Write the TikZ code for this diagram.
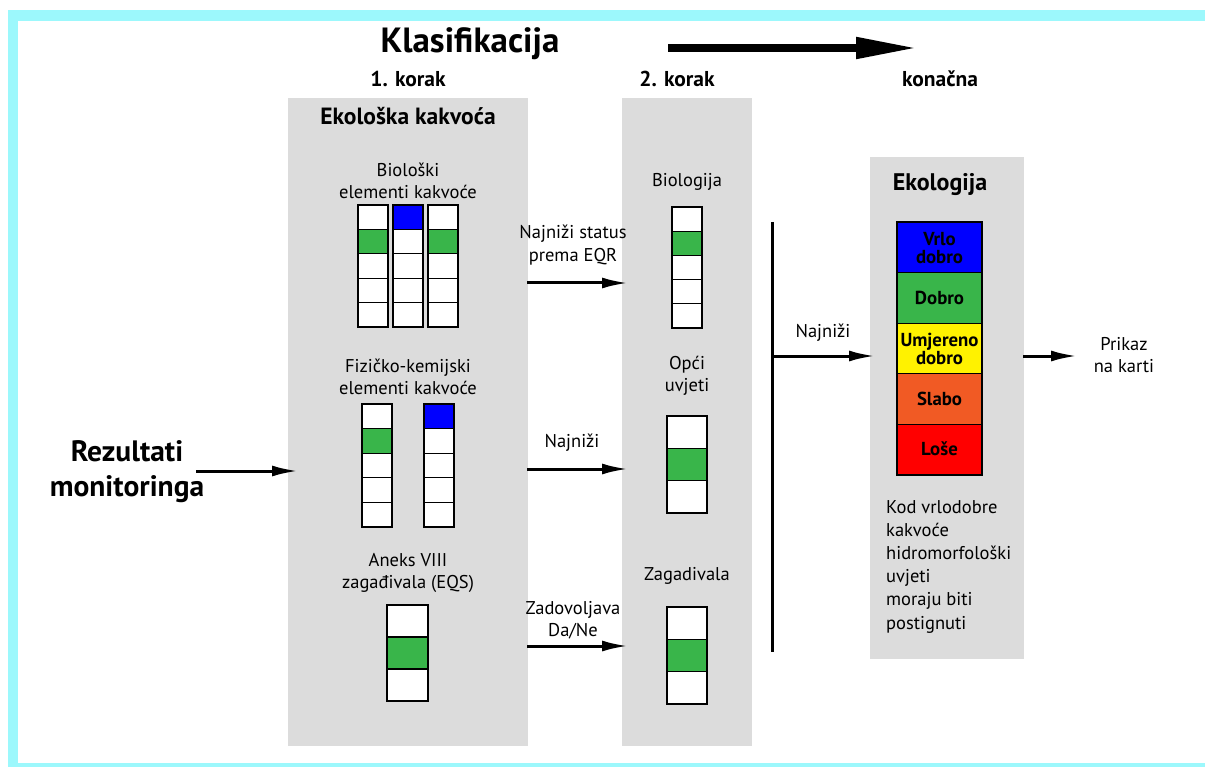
\documentclass[tikz,border=0pt]{standalone}
\usepackage{fontspec}
\setmainfont{PT Sans}
\usetikzlibrary{arrows.meta}
\definecolor{frame}{HTML}{9CF8FC}
\definecolor{panel}{HTML}{DCDCDC}
\definecolor{cB}{HTML}{0000FF}
\definecolor{cG}{HTML}{39B54A}
\definecolor{cY}{HTML}{FFF200}
\definecolor{cO}{HTML}{F15A24}
\definecolor{cR}{HTML}{FF0000}
\newcommand{\mybar}[5]{%
  \foreach \c [count=\i from 0] in {#5} {
    \draw[line width=1.3pt, fill=\c] (#1,{#2+\i*#4}) rectangle ++(#3,#4);
  }}
\tikzset{
  panelbox/.style={fill=panel, draw=none, inner sep=0pt, anchor=north west},
  lbl/.style={align=center, inner sep=0pt, font=\fontsize{18.5}{22.5}\selectfont},
  blbl/.style={align=center, inner sep=0pt, font=\bfseries\fontsize{21.5}{24}\selectfont},
  flow/.style={line width=3pt, -{Latex[length=26pt, width=11pt]}},
  stk/.style={align=center, inner sep=0pt, font=\bfseries\fontsize{18.8}{17.5}\selectfont},
}
\begin{document}
\begin{tikzpicture}[x=1pt, y=-1pt]
\useasboundingbox (0,0) rectangle (1205,767);
% frame
\fill[frame] (8,10) rectangle (1205,767);
\fill[white] (18,21) rectangle (1205,763);
% panels
\node[panelbox, minimum width=240pt, minimum height=648pt] (p1) at (288,98) {};
\node[panelbox, minimum width=130pt, minimum height=648pt] (p2) at (622,98) {};
\node[panelbox, minimum width=154pt, minimum height=502pt] (p3) at (870,157) {};
% title
\node[inner sep=0pt, font=\bfseries\fontsize{35}{38}\selectfont] (title) at (470,44) {Klasifikacija};
\coordinate (ta) at (668,48);
\coordinate (tb) at (918,48);
\draw[line width=8pt, -{Triangle[length=62pt, width=20pt]}] (ta) -- (tb);
\node[blbl] (k1) at (408,79) {1. korak};
\node[blbl] (k2) at (677,79) {2. korak};
\node[blbl] (k3) at (940,79) {konačna};
% panel 1
\node[blbl, font=\bfseries\fontsize{23.5}{26}\selectfont] (eko) at (408,116) {Ekološka kakvoća};
\node[lbl] (bio) at (408,181) {Biološki\\elementi kakvoće};
\mybar{358}{205}{30}{24.4}{white,cG,white,white,white}
\mybar{393}{205}{30}{24.4}{cB,white,white,white,white}
\mybar{428}{205}{30}{24.4}{white,cG,white,white,white}
\node[lbl] (fiz) at (408,377) {Fizičko-kemijski\\elementi kakvoće};
\mybar{362}{404}{30}{24.6}{white,cG,white,white,white}
\mybar{424}{404}{30}{24.6}{cB,white,white,white,white}
\node[lbl] (anx) at (408,573) {Aneks VIII\\zagađivala (EQS)};
\mybar{387}{605}{41}{32}{white,cG,white}
% panel 2
\node[lbl] (biol) at (687,182) {Biologija};
\mybar{672}{207}{30}{24.2}{white,cG,white,white,white}
\node[lbl] (opci) at (687,376) {Opći\\uvjeti};
\mybar{667}{416}{40}{32.3}{white,cG,white}
\node[lbl] (zag) at (687,576) {Zagadivala};
\mybar{667}{607}{40}{32.3}{white,cG,white}
% arrows 1 -> 2
\coordinate (a1s) at (527,283); \coordinate (a1e) at (628,283);
\coordinate (a2s) at (527,469); \coordinate (a2e) at (628,469);
\coordinate (a3s) at (527,646); \coordinate (a3e) at (628,646);
\draw[flow] (a1s) -- (a1e);
\draw[flow] (a2s) -- (a2e);
\draw[flow] (a3s) -- (a3e);
\node[lbl] (l1) at (573,245) {Najniži status\\prema EQR};
\node[lbl] (l2) at (572,443) {Najniži};
\node[lbl] (l3) at (573,620) {Zadovoljava\\Da/Ne};
% input
\node[inner sep=0pt, align=center, font=\bfseries\fontsize{29.5}{35}\selectfont] (rez) at (127,472) {Rezultati\\monitoringa};
\coordinate (ri) at (196,471); \coordinate (ro) at (298,471);
\draw[flow] (ri) -- (ro);
% collector
\coordinate (vt) at (772,222); \coordinate (vb) at (772,652);
\draw[line width=3pt] (vt) -- (vb);
\coordinate (cs) at (772,356); \coordinate (ce) at (875,356);
\draw[flow] (cs) -- (ce);
\node[lbl] (l4) at (823,333) {Najniži};
% panel 3
\node[inner sep=0pt, font=\bfseries\fontsize{24}{26}\selectfont] (ekol) at (940,185) {Ekologija};
\mybar{897}{222}{85}{50.6}{cB,cG,cY,cO,cR}
\node[stk] (s1) at (939.5,248) {Vrlo\\dobro};
\node[stk] (s2) at (939.5,298) {Dobro};
\node[stk] (s3) at (939.5,349) {Umjereno\\dobro};
\node[stk] (s4) at (939.5,399) {Slabo};
\node[stk] (s5) at (939.5,449) {Loše};
\coordinate (os) at (1023,356); \coordinate (oe) at (1077,356);
\draw[flow] (os) -- (oe);
\node[lbl] (prk) at (1124,355) {Prikaz\\na karti};
\node[anchor=north west, align=left, inner sep=0pt, font=\fontsize{18.5}{23.2}\selectfont] (note) at (886,500) {Kod vrlodobre\\kakvoće\\hidromorfološki\\uvjeti\\moraju biti\\postignuti};
\end{tikzpicture}
\end{document}
